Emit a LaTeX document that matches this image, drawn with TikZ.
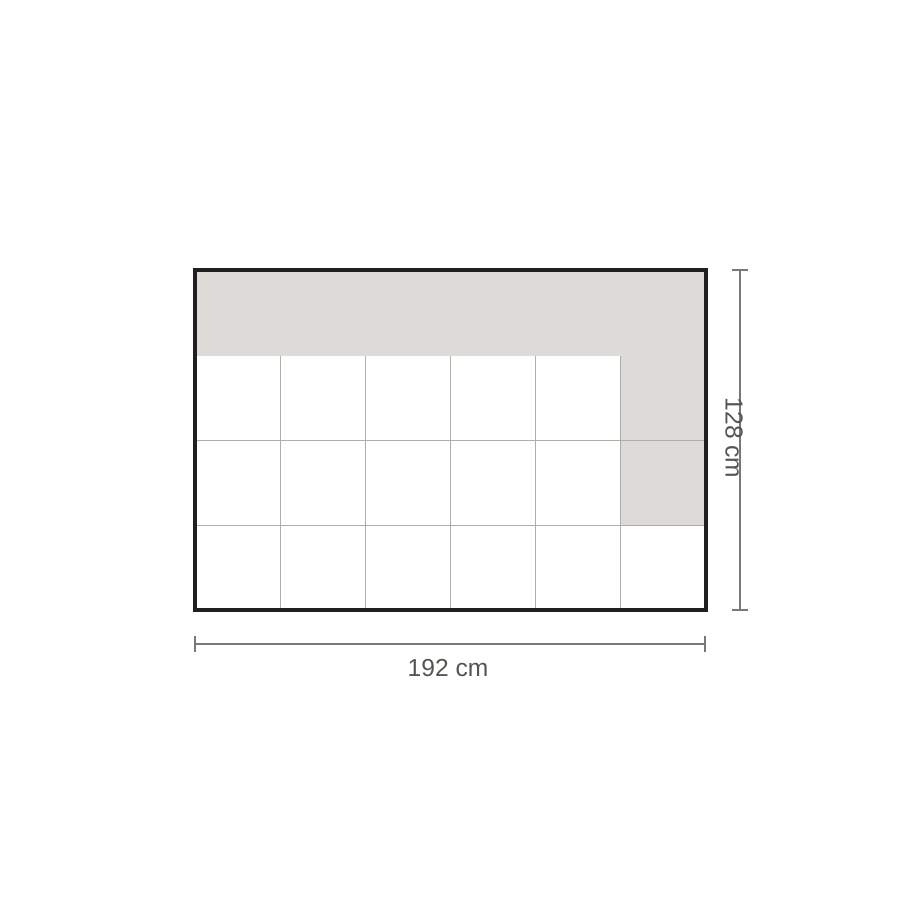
\documentclass[tikz,border=0pt]{standalone}
\usepackage{fontspec}
\setmainfont{Liberation Sans}
\usepackage{tikz}
\usetikzlibrary{calc}
\definecolor{tilegrey}{HTML}{DCDBD8}
\definecolor{framecol}{HTML}{231F20}
\definecolor{gridcol}{HTML}{B0ACA8}
\definecolor{dimcol}{HTML}{7B7773}
\definecolor{labelcol}{HTML}{57534F}

\begin{document}
\begin{tikzpicture}[x=0.02cm, y=0.02cm]
			%%%%% START %%%%%
			\useasboundingbox (0, 0) rectangle (900, 900);
			
			\fill[tilegrey] (195, 630) rectangle (706, 545);
			\fill[tilegrey] (620, 545) rectangle (706, 375);
			
			\draw[line width=0.5pt, color=gridcol] (280, 545) -- (280, 290);
			\draw[line width=0.5pt, color=gridcol] (365, 545) -- (365, 290);
			\draw[line width=0.5pt, color=gridcol] (450, 545) -- (450, 290);
			\draw[line width=0.5pt, color=gridcol] (535, 545) -- (535, 290);
			\draw[line width=0.5pt, color=gridcol] (620, 545) -- (620, 290);
			\draw[line width=0.5pt, color=gridcol!40] (195, 545) -- (706, 545);
			\draw[line width=0.5pt, color=gridcol] (195, 460) -- (706, 460);
			\draw[line width=0.5pt, color=gridcol] (195, 375) -- (706, 375);
			
			\draw[line width=2.1pt, color=framecol] (195, 630) rectangle (706, 290);
			
			\coordinate (wl) at (195, 256);
			\coordinate (wr) at (705, 256);
			\draw[line width=1.1pt, color=dimcol] (wl) -- (wr);
			\draw[line width=1.1pt, color=dimcol] ($(wl)+(0, 8)$) -- ($(wl)+(0, -8)$);
			\draw[line width=1.1pt, color=dimcol] ($(wr)+(0, 8)$) -- ($(wr)+(0, -8)$);
			\node[color=labelcol, font=\fontsize{14}{16}\selectfont] (wlabel) at (448, 232) {192 cm};
			
			\coordinate (ht) at (740, 630);
			\coordinate (hb) at (740, 290);
			\draw[line width=1.1pt, color=dimcol] (ht) -- (hb);
			\draw[line width=1.1pt, color=dimcol] ($(ht)+(-8, 0)$) -- ($(ht)+(8, 0)$);
			\draw[line width=1.1pt, color=dimcol] ($(hb)+(-8, 0)$) -- ($(hb)+(8, 0)$);
			\node[rotate=-90, color=labelcol, font=\fontsize{14}{16}\selectfont] (hlabel) at (734, 462) {128 cm};
			
			%%%%% END %%%%%
\end{tikzpicture}
\end{document}
